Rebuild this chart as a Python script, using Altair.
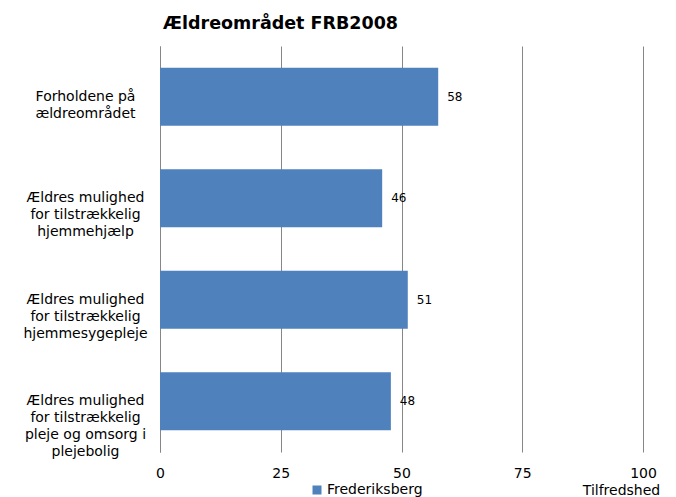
import altair as alt
import pandas as pd

categories = [
    "Forholdene på|ældreområdet",
    "Ældres mulighed|for tilstrækkelig|hjemmehjælp",
    "Ældres mulighed|for tilstrækkelig|hjemmesygepleje",
    "Ældres mulighed|for tilstrækkelig|pleje og omsorg i|plejebolig",
]
values = [57.6, 46.0, 51.3, 47.8]
series_name = ["Frederiksberg"] * 4
x_ticks = [0, 25, 50, 75, 100]

df = pd.DataFrame({"cat": categories, "val": values, "series": series_name})

FONT = "DejaVu Sans"
BLUE = "#4F81BD"

base = alt.Chart(df).encode(
    y=alt.Y(
        "cat:N",
        sort=None,
        scale=alt.Scale(paddingInner=0.43, paddingOuter=0.215),
        axis=alt.Axis(
            title=None,
            ticks=False,
            domain=True,
            domainColor="#868686",
            labelExpr="split(datum.label, '|')",
            labelAlign="center",
            labelPadding=75,
            labelFont=FONT,
            labelFontSize=14,
            labelColor="#000000",
            labelLineHeight=17,
            labelLimit=300,
        ),
    ),
)

bars = base.mark_bar(color=BLUE).encode(
    x=alt.X(
        "val:Q",
        scale=alt.Scale(domain=[0, 100], nice=False),
        axis=alt.Axis(
            values=x_ticks,
            title="Tilfredshed",
            titleFont=FONT,
            titleFontSize=14,
            titleFontWeight="normal",
            titleColor="#000000",
            titleX=461,
            titleY=42,
            titleAlign="center",
            titleBaseline="alphabetic",
            grid=True,
            gridColor="#868686",
            domain=False,
            ticks=False,
            labelFlush=False,
            labelPadding=14,
            labelFont=FONT,
            labelFontSize=14,
            labelColor="#000000",
        ),
    ),
    color=alt.Color(
        "series:N",
        scale=alt.Scale(range=[BLUE]),
        legend=alt.Legend(
            title=None,
            orient="none",
            legendX=150,
            legendY=437,
            symbolType="square",
            symbolSize=81,
            symbolStrokeWidth=0,
            labelFont=FONT,
            labelFontSize=14,
            labelColor="#000000",
            labelOffset=3,
        ),
    ),
)

texts = base.mark_text(align="left", dx=9, font=FONT, fontSize=12, color="#000000").encode(
    x="val:Q",
    text=alt.Text("val:Q", format=".0f"),
)

chart = (
    alt.layer(bars, texts)
    .properties(
        width=483,
        height=406,
        autosize=alt.AutoSizeParams(type="none"),
        padding={"left": 152, "top": 38, "right": 25, "bottom": 45},
        title=alt.TitleParams(
            "Ældreområdet FRB2008",
            anchor="start",
            frame="group",
            font=FONT,
            fontSize=17.5,
            fontWeight="bold",
            color="#000000",
            offset=14,
            dx=3,
        ),
    )
    .configure_view(stroke=None)
)

chart.save("out.html", embed_options={"renderer": "svg", "actions": False})
